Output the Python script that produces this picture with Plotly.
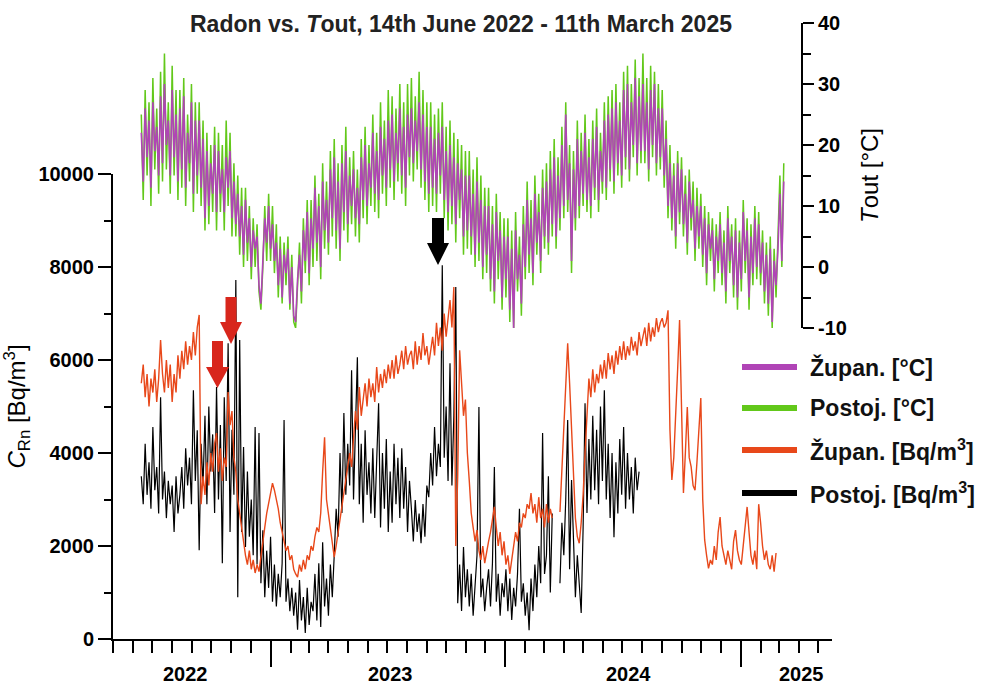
import plotly.graph_objects as go
import pandas as pd

# ---------------- data (3-day sampling) ----------------
dates = pd.date_range("2022-06-14", periods=334, freq="3D")

# Outdoor temperature, Zupanova jama [degC]
t_zupan = [
    22, 14, 26, 18, 24, 13, 27, 19, 23, 15,
    28, 17, 30, 20, 24, 15, 29, 18, 25, 14,
    26, 16, 28, 13, 22, 17, 27, 12, 24, 15,
    24, 13, 21, 8, 19, 10, 17, 12, 20, 9,
    19, 12, 16, 9, 18, 13, 19, 8, 14, 7,
    12, 5, 10, 2, 11, 4, 8, 0, 6, 3,
    5, -3, -6, 2, 8, 4, 10, 3, 7, 1,
    4, -3, 3, -5, 2, -1, 3, -6, 0, -8,
    -9, -2, 2, -4, 6, 1, 9, -1, 8, 3,
    13, 4, 10, 0, 14, 6, 11, 4, 16, 8,
    18, 6, 14, 3, 17, 9, 19, 7, 15, 10,
    16, 8, 13, 7, 18, 11, 20, 10, 17, 13,
    22, 12, 19, 11, 23, 15, 21, 13, 24, 16,
    25, 14, 22, 17, 26, 15, 23, 13, 25, 18,
    26, 17, 24, 19, 27, 16, 25, 14, 23, 12,
    23, 13, 21, 12, 22, 15, 23, 11, 19, 9,
    20, 10, 18, 7, 17, 11, 16, 5, 15, 6,
    15, 5, 12, 2, 14, 4, 11, 0, 10, 2,
    10, -2, 7, -4, 9, 1, 6, -5, 5, -2,
    5, -7, 3, -10, 6, -2, 2, -6, 7, 0,
    11, 2, 8, -1, 12, 4, 9, 1, 13, 5,
    14, 4, 16, 7, 18, 5, 15, 8, 20, 10,
    25, 11, 17, 1, 16, 8, 21, 10, 19, 12,
    22, 11, 18, 10, 21, 13, 23, 11, 19, 14,
    24, 13, 25, 16, 26, 14, 27, 17, 24, 15,
    29, 18, 30, 16, 27, 20, 31, 17, 28, 19,
    30, 19, 27, 16, 29, 20, 30, 17, 26, 18,
    26, 15, 21, 10, 17, 8, 15, 5, 17, 9,
    16, 7, 12, 4, 14, 8, 11, 3, 10, 5,
    10, 2, 8, -1, 7, 3, 6, -2, 5, 1,
    7, -1, 4, -4, 8, 1, 5, -3, 6, -5,
    4, -2, 9, 1, 6, -5, 5, -1, 8, 0,
    7, -1, 4, -4, 2, -6, 3, -9, 1, -3,
    3, 12, 1, 14,
]

# Outdoor temperature, Postojna [degC]
t_postoj = [
    25, 11, 29, 15, 27, 10, 31, 16, 26, 12,
    32, 14, 35, 16, 27, 12, 33, 15, 29, 11,
    29, 13, 31, 10, 25, 14, 30, 9, 27, 12,
    27, 10, 24, 6, 22, 7, 20, 9, 23, 6,
    22, 9, 20, 6, 24, 10, 22, 5, 17, 5,
    15, 2, 13, 0, 13, 1, 10, -2, 8, 0,
    7, -4, -7, 0, 10, 1, 12, 1, 10, -1,
    7, -5, 5, -6, 4, -3, 5, -7, 2, -9,
    -10, -4, 4, -6, 8, -1, 11, -3, 11, 0,
    15, 1, 12, -2, 17, 3, 14, 2, 19, 5,
    21, 3, 17, 1, 20, 6, 23, 4, 18, 7,
    19, 5, 16, 4, 21, 8, 23, 7, 20, 10,
    25, 9, 22, 8, 27, 12, 24, 10, 29, 13,
    28, 11, 26, 14, 30, 12, 27, 10, 30, 15,
    31, 14, 28, 16, 32, 13, 29, 11, 27, 9,
    27, 10, 25, 9, 26, 12, 27, 8, 23, 6,
    24, 7, 22, 4, 21, 8, 20, 2, 19, 3,
    19, 2, 16, 0, 18, 1, 15, -2, 13, -1,
    13, -4, 10, -6, 12, -2, 9, -7, 8, -5,
    8, -9, 6, -10, 9, -4, 5, -8, 10, -2,
    14, -1, 11, -3, 15, 2, 12, -1, 16, 3,
    17, 2, 19, 5, 21, 3, 18, 6, 23, 8,
    27, 9, 20, -1, 19, 6, 24, 8, 22, 10,
    25, 9, 21, 8, 24, 11, 26, 9, 22, 12,
    27, 11, 28, 14, 29, 12, 30, 15, 27, 13,
    32, 16, 33, 14, 30, 18, 34, 15, 31, 17,
    35, 17, 31, 14, 33, 18, 32, 15, 30, 16,
    29, 13, 24, 8, 20, 6, 17, 3, 19, 7,
    18, 5, 15, 2, 16, 6, 14, 1, 13, 3,
    12, 0, 10, -3, 9, 1, 8, -4, 7, -1,
    9, -3, 6, -6, 10, -1, 7, -5, 8, -7,
    6, -4, 11, -1, 8, -7, 7, -3, 10, -2,
    9, -3, 6, -6, 4, -8, 5, -10, 3, -5,
    5, 15, 0, 17,
]

# Radon concentration, Zupanova jama [Bq/m3]
rn_zupan = [
    5500, 5900, 5200, 5700, 5000, 5600, 5300, 5800, 5100, 5600,
    6430, 5700, 5300, 6000, 5400, 5900, 5100, 5700, 5300, 6100,
    5600, 6200, 5800, 6400, 5900, 6300, 6000, 6600, 6100, 6700,
    6970, 2900, 3500, 3100, 3800, 3300, 4000, 3600, 4200, 4430,
    3600, 4100, 3400, 3900, 3700, 5310, 4600, 4900, 3900, 3600,
    3000, 2700, 2300, 2000, 1800, 1600, 1900, 1500, 1700, 1420,
    1600, 1450, 1800, 2100, 2400, 2700, 2900, 3100, 3350, 3200,
    3000, 2800, 2500, 2300, 2100, 1900, 2000, 1700, 1800, 1500,
    1400, 1330, 1600, 1450, 1700, 1500, 1800, 1700, 2000, 1900,
    2200, 2400, 2300, 2710, 3600, 4340, 3000, 2700, 2400, 2100,
    1760, 2000, 2300, 2600, 2900, 3200, 3500, 3800, 4000, 3700,
    4300, 4900, 4500, 5420, 4800, 5100, 5500, 5000, 5600, 5200,
    5500, 5100, 5850, 5300, 5700, 5400, 5800, 5500, 5900, 5600,
    6000, 5600, 6100, 5700, 5900, 6200, 5800, 6300, 5900, 6100,
    6200, 5800, 6400, 5900, 6300, 6000, 6580, 6100, 6300, 5900,
    6200, 6500, 6100, 6800, 6300, 6700, 6200, 7000, 6500, 6900,
    7290, 6700, 7570, 2000, 3500, 6210, 5600, 4800, 5150, 4000,
    3400, 2710, 2400, 2100, 2340, 1900, 1700, 2000, 1630, 1900,
    2100, 2300, 2600, 2840, 2400, 2000, 2300, 1800, 2100, 1600,
    1800, 1400, 1700, 2000, 2300, 2100, 2500, 2400, 2700, 2600,
    2900, 2800, 3140, 2700, 2900, 2500, 3050, 2600, 2800, 2400,
    2900, 2500, 2800, 2600, None, None, None, 2730, 3600, 4600,
    5600, 6360, 5500, 4400, 3300, 2600, 2200, 2060, 2500, 3100,
    4000, 4990, 5600, 5200, 5800, 5300, 5700, 5500, 5900, 5600,
    6000, 5600, 6150, 5800, 6100, 5700, 6200, 5900, 6300, 6000,
    6400, 6000, 6300, 6100, 6500, 6200, 6400, 6100, 6600, 6300,
    6500, 6700, 6300, 6800, 6400, 6700, 6500, 6900, 6600, 6800,
    6900, 6700, 6800, 7070, 4500, 3420, 3900, 4700, 5800, 6860,
    5000, 3140, 4000, 4990, 3900, 3700, 3300, 3200, 3800, 4500,
    5180, 3000, 2130, 1800, 1520, 1700, 1600, 2000, 1700, 2300,
    2620, 2000, 1800, 1600, 1900, 1700, 1500, 2100, 2340, 1900,
    1700, 1600, 2000, 2400, 2840, 2300, 1800, 1600, 1900, 1500,
    2900, 2500, 2000, 1700, 1900, 1600, 1500, 1800, 1450, 1850,
    None, None, None, None,
]

# Radon concentration, Postojna [Bq/m3] (record ends early 2024)
rn_postoj = [
    3500, 2900, 4200, 3100, 3800, 2800, 4560, 3200, 3700, 2700,
    5200, 3000, 3600, 2600, 3400, 2900, 3300, 2300, 3500, 2700,
    3100, 3700, 2800, 4100, 3300, 3900, 2900, 5350, 3400, 4490,
    1910, 4200, 3300, 4800, 2900, 5000, 3600, 4400, 2710, 5420,
    3000, 4600, 1630, 5200, 3400, 6360, 2300, 4500, 3100, 7720,
    900, 6430, 2300, 4130, 1980, 3600, 2200, 3000, 1800, 4560,
    1600, 4430, 1200, 2340, 900, 1900, 1100, 2200, 800, 1600,
    700, 1400, 900, 1630, 4710, 800, 1300, 600, 1100, 500,
    1000, 200, 1270, 400, 900, 130, 1100, 300, 800, 600,
    1400, 400, 1630, 260, 2080, 700, 1300, 500, 1600, 900,
    1800, 2800, 2200, 4000, 2710, 4860, 3100, 4200, 3300, 5780,
    3000, 4400, 6060, 2900, 4200, 2500, 4490, 3100, 3800, 2700,
    4100, 2600, 3800, 5070, 2400, 4000, 2800, 4300, 2300, 3600,
    2500, 4200, 2900, 3900, 2600, 4100, 2800, 3700, 2300, 3400,
    2800, 2100, 2990, 2300, 2700, 2060, 2900, 2200, 3300, 3050,
    4000, 3300, 4560, 3500, 4200, 3700, 8040, 3900, 5000, 3400,
    5930, 3300, 4800, 7570, 770, 1600, 600, 1980, 900, 1500,
    700, 1400, 500, 1200, 1800, 4990, 900, 1300, 600, 1100,
    1500, 700, 1630, 3700, 800, 1400, 500, 1200, 900, 1500,
    600, 1300, 410, 1100, 700, 1400, 2800, 800, 1200, 500,
    1000, 190, 1300, 600, 1600, 900, 2000, 1200, 4430, 1400,
    1800, 3500, 1000, 2700, None, None, None, 1200, 2500, 1800,
    3000, 4710, 1500, 3420, 2000, 900, 1800, 1200, 560, 2400,
    5070, 2710, 4300, 3000, 4800, 3200, 4500, 2900, 5000, 3400,
    5350, 3000, 4200, 2600, 4000, 2190, 3800, 2700, 4300, 3100,
    4560, 2800, 4000, 3000, 3700, 2700, 3900, 3200, 3600,
] + [None] * 75

for s in (t_zupan, t_postoj, rn_zupan, rn_postoj):
    assert len(s) == len(dates), len(s)

radon_ticks = [0, 2000, 4000, 6000, 8000, 10000]
radon_minor = [1000, 3000, 5000, 7000, 9000]
temp_ticks = [-10, 0, 10, 20, 30, 40]
temp_minor = [-5, 5, 15, 25, 35]
year_ticks = ["2023-01-01", "2024-01-01", "2025-01-01"]
year_labels = ["2022", "2023", "2024", "2025"]
year_label_pos = ["2022-08-22", "2023-07-06", "2024-07-10", "2025-04-05"]
legend_labels = ["Župan. [°C]", "Postoj. [°C]",
                 "Župan. [Bq/m<sup>3</sup>]", "Postoj. [Bq/m<sup>3</sup>]"]

PURPLE = "#B044B6"
GREEN = "#62C81A"
ORANGE = "#E8481A"
BLACK = "#000000"
ARROW_RED = "#D8261C"
FONT = "Liberation Sans, Arial, sans-serif"

# ---------------- geometry helpers (pixels -> paper) ----------------
X0, X1 = 113, 832
YT, YB = 23, 639


def px(x):
    return (x - X0) / (X1 - X0)


def py(y):
    return (YB - y) / (YB - YT)


fig = go.Figure()
fig.add_trace(go.Scatter(x=dates, y=rn_postoj, mode="lines", name="Postoj. [Bq/m3]",
                         line=dict(color=BLACK, width=1.2), yaxis="y"))
fig.add_trace(go.Scatter(x=dates, y=rn_zupan, mode="lines", name="Župan. [Bq/m3]",
                         line=dict(color=ORANGE, width=1.4), yaxis="y"))
fig.add_trace(go.Scatter(x=dates, y=t_postoj, mode="lines", name="Postoj. [°C]",
                         line=dict(color=GREEN, width=1.5), yaxis="y2"))
fig.add_trace(go.Scatter(x=dates, y=t_zupan, mode="lines", name="Župan. [°C]",
                         line=dict(color=PURPLE, width=1.6), yaxis="y2"))

tickfont = dict(family=FONT, size=20, color="black", weight="bold")

fig.update_layout(
    width=988, height=684,
    margin=dict(l=X0, r=988 - X1, t=YT, b=684 - YB),
    paper_bgcolor="white", plot_bgcolor="rgba(0,0,0,0)",
    font=dict(family=FONT, color="black"),
    showlegend=False,
    title=dict(text="Radon vs. <i>T</i>out, 14th June 2022 - 11th March 2025",
               x=461 / 988, xanchor="center", xref="container",
               y=1 - 24 / 684, yanchor="middle", yref="container",
               font=dict(family=FONT, size=23, color="#222222", weight="bold")),
    xaxis=dict(type="date", range=["2022-05-01", "2025-05-23"], anchor="y",
               showline=True, linecolor="black", linewidth=2,
               tickmode="array", tickvals=year_ticks, ticks="outside",
               ticklen=26, tickwidth=2, tickcolor="black",
               showticklabels=False, showgrid=False, zeroline=False,
               minor=dict(ticks="outside", dtick="M1", tick0="2022-05-01",
                          ticklen=12, tickwidth=2, tickcolor="black", showgrid=False)),
    yaxis=dict(domain=[0, py(174)], range=[0, 10000],
               showline=True, linecolor="black", linewidth=2,
               tickmode="array", tickvals=radon_ticks,
               ticktext=[str(v) for v in radon_ticks], ticks="outside",
               ticklen=13, tickwidth=2, tickcolor="black", tickfont=tickfont,
               showgrid=False, zeroline=False,
               minor=dict(ticks="outside", tickmode="array", tickvals=radon_minor,
                          ticklen=7, tickwidth=2, tickcolor="black", showgrid=False),
               title=dict(text="<i>C</i><sub>Rn</sub> [Bq/m<sup>3</sup>]",
                          font=dict(family=FONT, size=24, color="black"), standoff=8)),
    yaxis2=dict(domain=[py(328), 1], range=[-10, 40], anchor="free", position=px(802),
                side="right",
                showline=True, linecolor="black", linewidth=2,
                tickmode="array", tickvals=temp_ticks,
                ticktext=[str(v) for v in temp_ticks], ticks="outside",
                ticklen=11, tickwidth=2, tickcolor="black", tickfont=tickfont,
                showgrid=False, zeroline=False,
                minor=dict(ticks="outside", tickmode="array", tickvals=temp_minor,
                           ticklen=8, tickwidth=2, tickcolor="black", showgrid=False),
                title=dict(text="<i>T</i>out [°C]",
                           font=dict(family=FONT, size=24, color="black"), standoff=14)),
)

# year labels (centred between the year ticks)
for lab, pos in zip(year_labels, year_label_pos):
    fig.add_annotation(x=pos, y=0, xref="x", yref="paper", yshift=-35,
                       text=lab, showarrow=False, xanchor="center", yanchor="middle",
                       font=dict(family=FONT, size=20, color="black", weight="bold"))

# hand-drawn style legend
legend_colors = [PURPLE, GREEN, ORANGE, BLACK]
legend_rows = [367, 408, 450, 493]
for lab, col, yy in zip(legend_labels, legend_colors, legend_rows):
    fig.add_shape(type="line", xref="paper", yref="paper",
                  x0=px(742), x1=px(797), y0=py(yy), y1=py(yy),
                  line=dict(color=col, width=6))
    fig.add_annotation(x=px(808), y=py(yy), xref="paper", yref="paper",
                       text=lab, showarrow=False, xanchor="left", yanchor="middle",
                       font=dict(family=FONT, size=23, color="#111111", weight="bold"))


# block arrows
def block_arrow(cx, top, head_top, tip, stem_w, head_w, color):
    s0, s1 = cx - stem_w / 2, cx + stem_w / 2
    h0, h1 = cx - head_w / 2, cx + head_w / 2
    pts = [(s0, top), (s1, top), (s1, head_top), (h1, head_top), (cx, tip),
           (h0, head_top), (s0, head_top)]
    path = "M " + " L ".join(f"{px(a):.5f},{py(b):.5f}" for a, b in pts) + " Z"
    fig.add_shape(type="path", path=path, xref="paper", yref="paper",
                  fillcolor=color, line=dict(color=color, width=0))


block_arrow(217.5, 341, 367, 388, 11, 23, ARROW_RED)
block_arrow(231, 297, 322, 344, 11, 22, ARROW_RED)
block_arrow(438, 218, 243, 265, 12, 22, BLACK)

fig.write_html("out.html")
